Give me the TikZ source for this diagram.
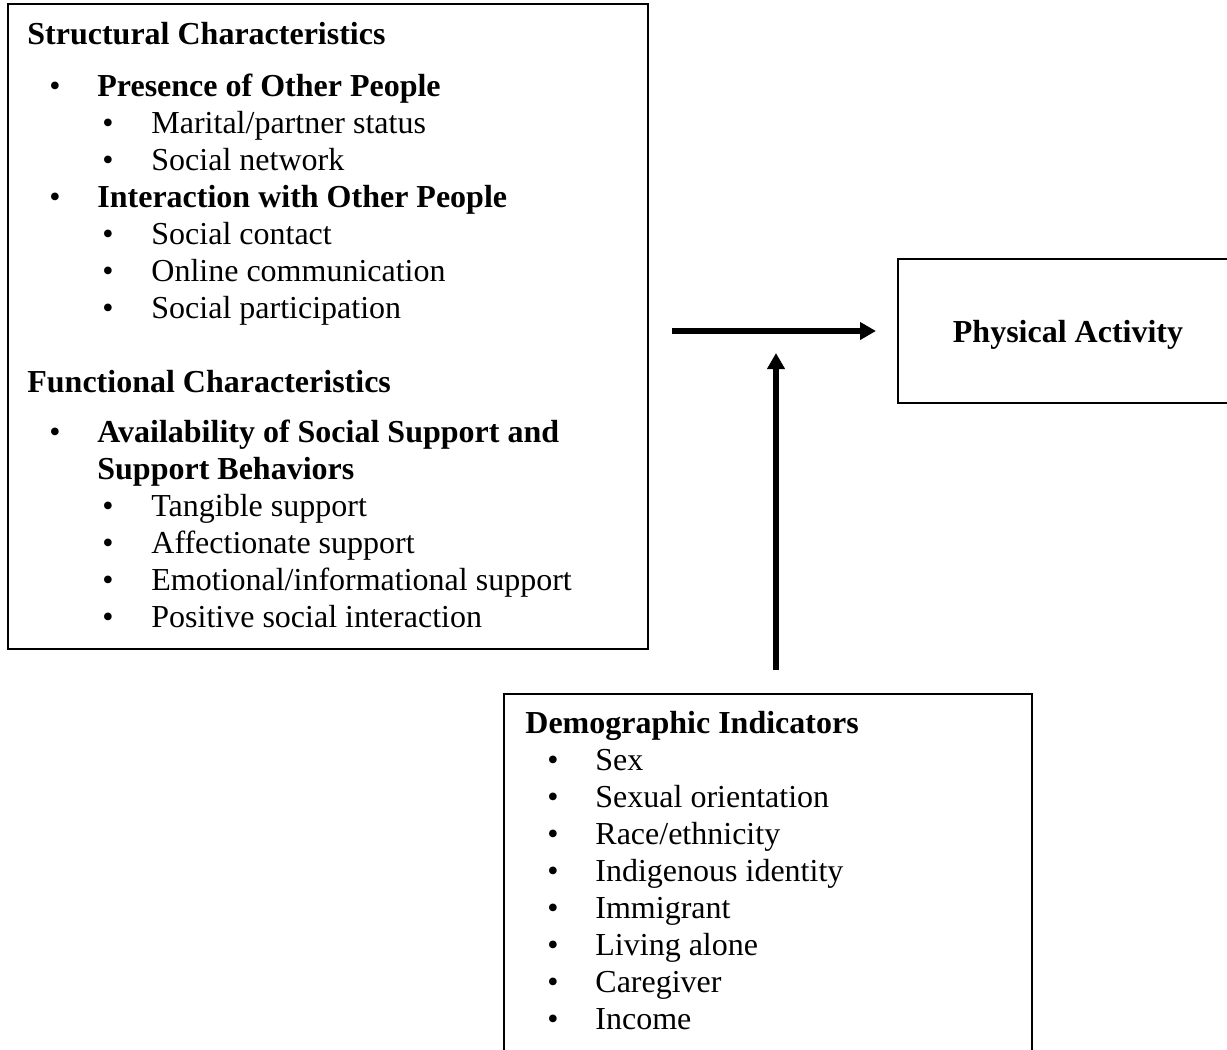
\documentclass[tikz,border=0pt]{standalone}
\usepackage{fontspec}
\setmainfont{Liberation Serif}
\usetikzlibrary{arrows.meta}
\tikzset{
  box/.style={draw, line width=1pt, rectangle, inner sep=0pt},
  txt/.style={anchor=base west, inner sep=0pt, font=\fontsize{16pt}{18.5pt}\selectfont},
  btxt/.style={anchor=base west, inner sep=0pt, font=\fontsize{16pt}{18.5pt}\selectfont\bfseries},
  bul/.style={anchor=base, inner sep=0pt, font=\fontsize{16pt}{18.5pt}\selectfont},
  arr/.style={line width=2.8pt, -{Triangle[length=8pt,width=8.5pt]}},
}
\begin{document}
\begin{tikzpicture}[x=0.5pt, y=-0.5pt]
\useasboundingbox (0,0) rectangle (1227,1050);
\clip (0,0) rectangle (1227,1050);
% boxes
\node[box, minimum width=320pt, minimum height=322.5pt] (soc) at (328,326.5) {};
\node[box, minimum width=171pt, minimum height=72pt] (pa) at (1069,331) {};
\node[box, minimum width=264pt, minimum height=188pt] (demo) at (768,882) {};
% physical activity text
\node[anchor=base, inner sep=0pt, font=\fontsize{16pt}{18.5pt}\selectfont\bfseries] (patxt) at (1068,342) {Physical Activity};
% left box text
\node[btxt] (h1) at (27,44) {Structural Characteristics};
\node[bul] (b1) at (55,96) {•};
\node[btxt] (t1) at (97,96) {Presence of Other People};
\foreach \t [count=\i] in {Marital/partner status, Social network}{
  \node[bul] (bp\i) at (108,{133+37*(\i-1)}) {•};
  \node[txt] (tp\i) at (151,{133+37*(\i-1)}) {\t};
}
\node[bul] (b2) at (55,207) {•};
\node[btxt] (t2) at (97,207) {Interaction with Other People};
\foreach \t [count=\i] in {Social contact, Online communication, Social participation}{
  \node[bul] (bi\i) at (108,{244+37*(\i-1)}) {•};
  \node[txt] (ti\i) at (151,{244+37*(\i-1)}) {\t};
}
\node[btxt] (h2) at (27,392) {Functional Characteristics};
\node[bul] (b3) at (55,442) {•};
\node[btxt] (t3) at (97,442) {Availability of Social Support and};
\node[btxt] (t4) at (97,479) {Support Behaviors};
\foreach \t [count=\i] in {Tangible support, Affectionate support, Emotional/informational support, Positive social interaction}{
  \node[bul] (bs\i) at (108,{516+37*(\i-1)}) {•};
  \node[txt] (ts\i) at (151,{516+37*(\i-1)}) {\t};
}
% demographic text
\node[btxt] (h3) at (525,733) {Demographic Indicators};
\foreach \t [count=\i] in {Sex, Sexual orientation, Race/ethnicity, Indigenous identity, Immigrant, Living alone, Caregiver, Income}{
  \node[bul] (bd\i) at (553,{770+37*(\i-1)}) {•};
  \node[txt] (td\i) at (595,{770+37*(\i-1)}) {\t};
}
% arrows
\coordinate (m) at (776,331);
\draw[arr, shorten <=11.5pt, shorten >=10.5pt] (soc.east |- pa.west) -- (pa.west);
\draw[arr, shorten <=11.5pt, shorten >=11pt] (m |- demo.north) -- (m);
\end{tikzpicture}
\end{document}
